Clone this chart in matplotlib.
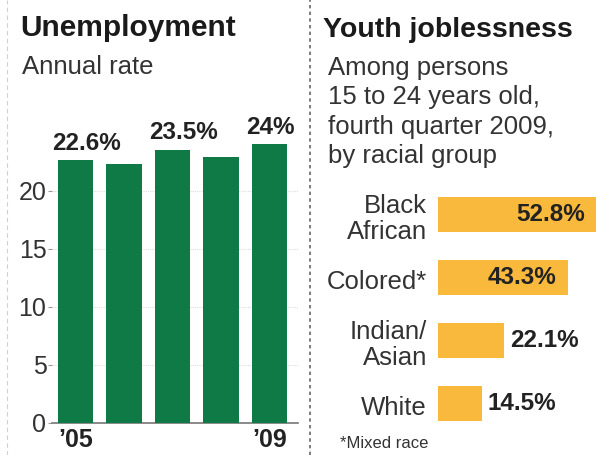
import matplotlib
matplotlib.use("Agg")
import matplotlib.pyplot as plt
from matplotlib.lines import Line2D

plt.rcParams.update({
    "font.family": ["Liberation Sans", "DejaVu Sans"],
    "font.size": 18,
})

# left chart: annual unemployment rate
years = ["2005", "2006", "2007", "2008", "2009"]
rates = [22.6, 22.3, 23.5, 22.9, 24.0]
rate_labels = {0: "22.6%", 2: "23.5%", 4: "24%"}
year_ticks = {0: "\u201905", 4: "\u201909"}

# right chart: youth joblessness by racial group
groups = ["Black\nAfrican", "Colored*", "Indian/\nAsian", "White"]
youth = [52.8, 43.3, 22.1, 14.5]
youth_labels = ["52.8%", "43.3%", "22.1%", "14.5%"]

GREEN = "#0f7a45"
GOLD = "#f8b93d"
DARK = "#222222"
TEXT = "#333333"

W, H = 597, 455
fig = plt.figure(figsize=(W / 100, H / 100), dpi=100)
fig.patch.set_facecolor("white")


def fx(px):
    return px / W


def fy(py):
    return 1 - py / H


# separators
fig.add_artist(Line2D([fx(7), fx(7)], [0, 1], color="#d0d0d0", lw=0.8,
                      ls=(0, (4, 3))))
fig.add_artist(Line2D([fx(310), fx(310)], [0, 1], color="#666666", lw=1.2,
                      ls=(0, (2, 2))))

# titles
fig.text(fx(20), fy(36), "Unemployment", weight="bold",
         fontsize=21.5, color="#1a1a1a", va="baseline")
fig.text(fx(22), fy(74), "Annual rate", fontsize=18.5, color=TEXT,
         va="baseline")
fig.text(fx(323), fy(37), "Youth joblessness", weight="bold",
         fontsize=20.5, color="#1a1a1a", va="baseline")
fig.text(fx(328), fy(56), "Among persons\n15 to 24 years old,\n"
         "fourth quarter 2009,\nby racial group", fontsize=18.5, color=TEXT,
         va="top", linespacing=1.28)

# left bar chart
ax = fig.add_axes([fx(52), fy(422.7), fx(298 - 52), (422.7 - 121) / H])
x = list(range(len(years)))
ax.bar(x, rates, width=0.74, color=GREEN, zorder=3)
ax.set_xlim(-0.485, 4.588)
ax.set_ylim(0, 26)
ax.set_yticks([0, 5, 10, 15, 20])
ax.tick_params(axis="y", length=3, color="#999999", labelsize=18,
               labelcolor=TEXT, pad=1)
ax.tick_params(axis="x", length=0)
ax.set_xticks(list(year_ticks.keys()))
ax.set_xticklabels(list(year_ticks.values()), weight="bold",
                   fontsize=18, color=DARK)
ax.yaxis.grid(True, color="#dddddd", lw=0.8, ls=(0, (1, 1)))
ax.set_axisbelow(True)
for s in ["top", "right", "left"]:
    ax.spines[s].set_visible(False)
ax.spines["bottom"].set_color("#777777")
ax.spines["bottom"].set_linewidth(1.2)
for i, lab in rate_labels.items():
    ax.annotate(lab, (i - 0.37, rates[i]), xytext=(-4, 4),
                textcoords="offset points", ha="left", va="bottom",
                weight="bold", fontsize=17.5, color=DARK)

# right bar chart
ax2 = fig.add_axes([fx(438), fy(436), fx(W - 438), (436 - 180) / H])
y = list(range(len(groups)))
ax2.barh(y, youth, height=0.556, color=GOLD)
ax2.set_xlim(0, 53)
ax2.set_ylim(3.516, -0.548)
ax2.axis("off")
for i, g in enumerate(groups):
    ax2.annotate(g, (0, i), xytext=(-8, -3), textcoords="offset points",
                 ha="right", va="center", fontsize=18.5, color=TEXT,
                 linespacing=1.12, annotation_clip=False)
for i, lab in enumerate(youth_labels):
    inside = youth[i] > 30
    ax2.annotate(lab, (youth[i], i), xytext=(-8 if inside else 4, 0),
                 textcoords="offset points", ha="right" if inside else "left",
                 va="center", weight="bold", fontsize=17.5,
                 color=DARK, annotation_clip=False)

fig.text(fx(340), fy(443), "*Mixed race", fontsize=12, color=TEXT,
         va="center")

fig.savefig("out.png", dpi=100, facecolor="white")
